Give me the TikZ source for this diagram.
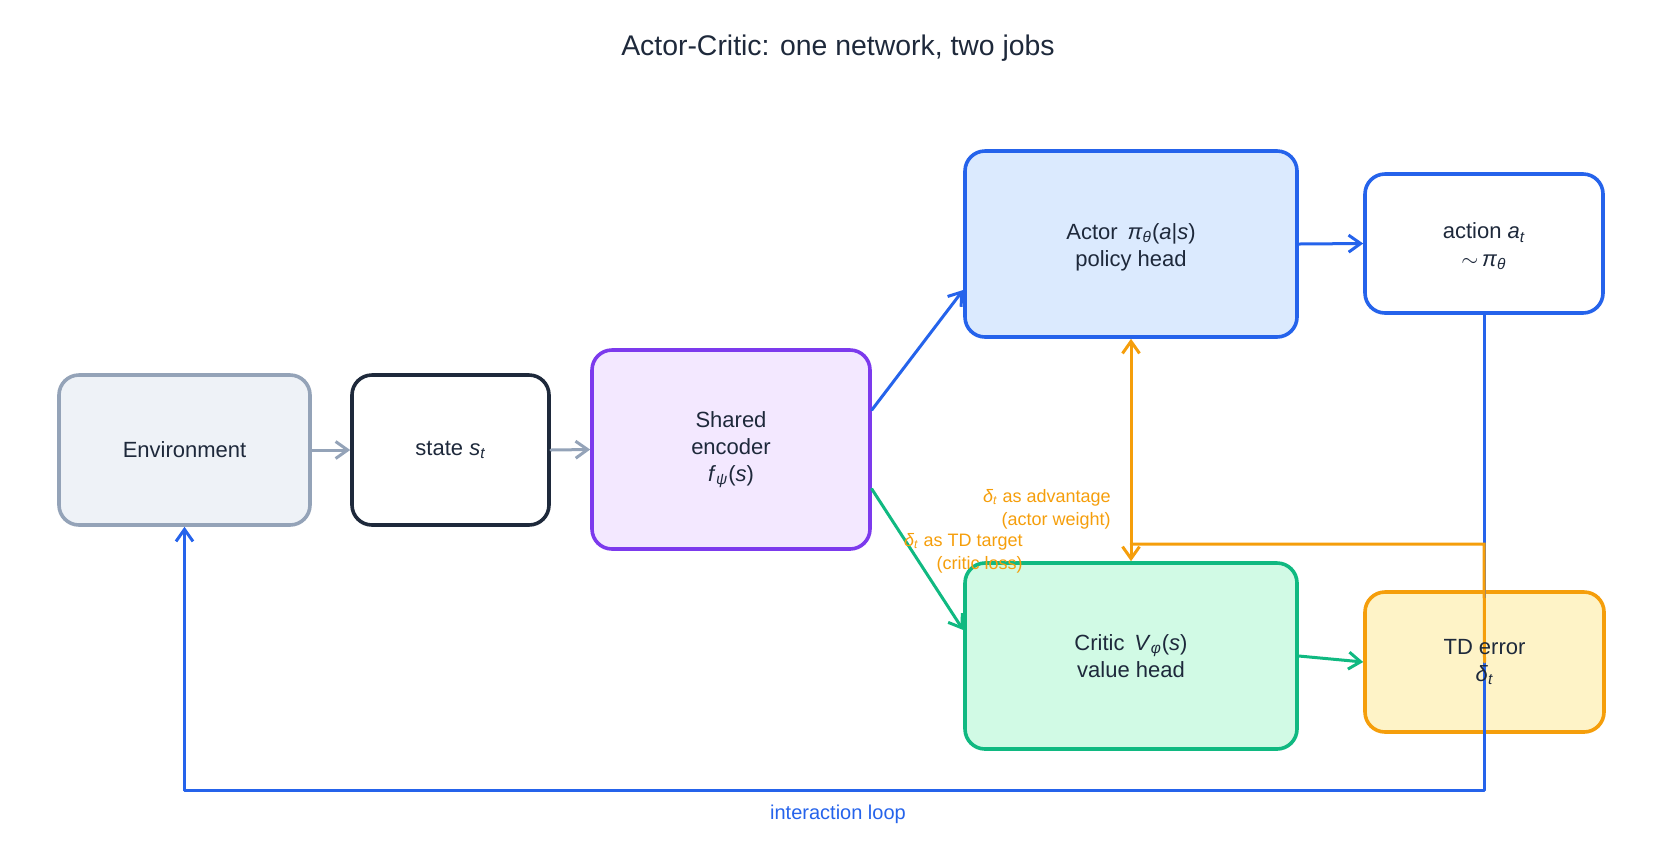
\documentclass[tikz,border=0pt]{standalone}
\usepackage{fontspec}
\setmainfont{Liberation Sans}
\usetikzlibrary{arrows.meta,calc}
\definecolor{ink}{HTML}{1E293B}
\definecolor{slatebd}{HTML}{94A3B8}
\definecolor{slatefl}{HTML}{EEF2F7}
\definecolor{violetbd}{HTML}{7C3AED}
\definecolor{violetfl}{HTML}{F3E8FF}
\definecolor{bluebd}{HTML}{2563EB}
\definecolor{bluefl}{HTML}{DBEAFE}
\definecolor{greenbd}{HTML}{10B981}
\definecolor{greenfl}{HTML}{D1FAE5}
\definecolor{amberbd}{HTML}{F59E0B}
\definecolor{amberfl}{HTML}{FEF3C7}
\newcommand{\mi}[1]{\textit{#1}}
\newcommand{\sbs}[1]{\textsubscript{\itshape #1}}
\begin{document}
\begin{tikzpicture}[x=0.5pt,y=-0.5pt,
  boxshape/.style 2 args={draw, rounded corners=10pt, line width=1.8pt, inner sep=0pt,
     minimum width=#1*0.5pt, minimum height=#2*0.5pt},
  boxtext/.style={text=ink, align=center, font=\fontsize{11}{13.6}\selectfont, inner sep=0pt},
  conn/.style={line width=1.5pt, line cap=round, -{Straight Barb[length=6pt,width=8.5pt]}},
  plainline/.style={line width=1.5pt, line cap=round},
  note/.style={text=amberbd, align=right, font=\fontsize{9}{11.5}\selectfont, inner sep=0pt}]
\useasboundingbox (0,0) rectangle (1675,864);

% boxes
\node[boxshape={251}{150}, draw=slatebd, fill=slatefl] (env) at (184.5,450) {};
\node[boxshape={197}{150}, draw=ink, fill=white] (state) at (450.5,450) {};
\node[boxshape={278}{199}, draw=violetbd, fill=violetfl] (enc) at (731,449.5) {};
\node[boxshape={332}{186}, draw=bluebd, fill=bluefl] (actor) at (1131,244) {};
\node[boxshape={238}{139}, draw=bluebd, fill=white] (action) at (1484,243.5) {};
\node[boxshape={332}{186}, draw=greenbd, fill=greenfl] (critic) at (1131,656) {};
\node[boxshape={239}{140}, draw=amberbd, fill=amberfl] (td) at (1484.5,662) {};

% connectors
\draw[conn, slatebd] (env.east) -- (state.west);
\draw[conn, slatebd] (state.east) -- (enc.west);
\draw[conn, bluebd] ($(enc.east)+(0,-39.5)$) -- ($(actor.west)+(0,46)$);
\draw[conn, greenbd] ($(enc.east)+(0,39.5)$) -- ($(critic.west)+(0,-26)$);
\draw[conn, bluebd] (actor.east) -- (action.west);
\draw[conn, greenbd] (critic.east) -- (td.west);

\coordinate (loopR) at (1484,790);
\coordinate (loopL) at (184.5,790);
\draw[plainline, bluebd] (action.south) -- (loopR);
\draw[plainline, bluebd] (loopR) -- (loopL);
\draw[conn, bluebd] (loopL) -- (env.south);

\coordinate (tdUp) at (1484,544);
\coordinate (tdJoin) at (1131,544);
\draw[plainline, amberbd] (td.center) -- (tdUp) -- (tdJoin);
\draw[line width=1.5pt, line cap=round, amberbd,
  {Straight Barb[length=6pt,width=8.5pt]}-{Straight Barb[length=6pt,width=8.5pt]}]
  (actor.south) -- (critic.north);

% texts
\node[text=ink, font=\fontsize{14.2}{16}\selectfont] (title) at (838,48) {Actor-Critic: one network, two jobs};
\node[boxtext] (envT) at (env.center) {Environment};
\node[boxtext] (stateT) at (state.center) {state \mi{s}\sbs{t}};
\node[boxtext] (encT) at (enc.center) {Shared\\encoder\\\mi{f}\sbs{ψ}(\mi{s})};
\node[boxtext] (actorT) at (1131,247) {Actor\hspace{0.45em}\mi{π}\sbs{θ}(\mi{a}|\mi{s})\\policy head};
\node[boxtext] (actionT) at (1484,246.5) {action \mi{a}\sbs{t}\\$\sim$\,\mi{π}\sbs{θ}};
\node[boxtext] (criticT) at (critic.center) {Critic\hspace{0.45em}\mi{V}\sbs{φ}(\mi{s})\\value head};
\node[boxtext] (tdT) at (td.center) {TD error\\\mi{δ}\sbs{t}};

\node[note, anchor=east] (advT) at (1111,509.5) {\mi{δ}\sbs{t} as advantage\\(actor weight)};
\node[note, anchor=east] (tgtT) at (1023,553.5) {\mi{δ}\sbs{t} as TD target\\(critic loss)};
\node[text=bluebd, font=\fontsize{10}{12}\selectfont, inner sep=0pt] (loopT) at (838,814) {interaction loop};
\end{tikzpicture}
\end{document}
